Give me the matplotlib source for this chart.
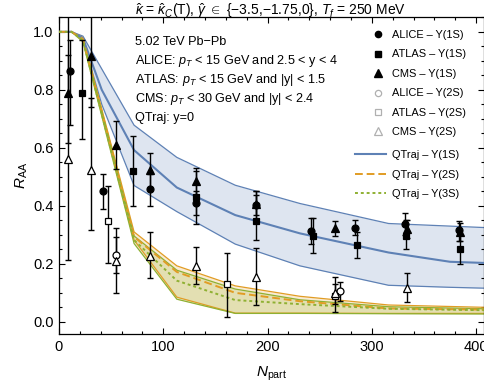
import matplotlib
matplotlib.use("Agg")
import matplotlib.pyplot as plt
from matplotlib.lines import Line2D
from matplotlib.ticker import MultipleLocator, FormatStrFormatter
import numpy as np

plt.rcParams['font.family'] = ['Liberation Sans', 'DejaVu Sans']
plt.rcParams['mathtext.fontset'] = 'custom'
plt.rcParams['mathtext.rm'] = 'Liberation Sans'
plt.rcParams['mathtext.it'] = 'Liberation Sans:italic'
plt.rcParams['mathtext.bf'] = 'Liberation Sans:bold'

# ---------------- QTraj theory bands ----------------
npart_1s = [0, 12, 23, 41, 72, 113, 169, 231, 316, 375, 408]
y1s_up = [1.0, 1.0, 0.985, 0.872, 0.678, 0.567, 0.471, 0.408, 0.339, 0.330, 0.325]
y1s_mid = [1.0, 1.0, 0.978, 0.800, 0.592, 0.463, 0.368, 0.305, 0.239, 0.207, 0.203]
y1s_lo = [1.0, 1.0, 0.972, 0.750, 0.470, 0.380, 0.268, 0.193, 0.126, 0.119, 0.116]

npart_ex = [0, 12, 23, 72, 113, 169, 231, 316, 408]
y2s_up = [1.0, 1.0, 0.980, 0.310, 0.193, 0.124, 0.088, 0.058, 0.050]
y2s_mid = [1.0, 1.0, 0.975, 0.293, 0.172, 0.100, 0.071, 0.046, 0.042]
y2s_lo = [1.0, 1.0, 0.970, 0.282, 0.085, 0.030, 0.030, 0.029, 0.029]
y3s_up = [1.0, 1.0, 0.975, 0.296, 0.178, 0.113, 0.076, 0.052, 0.045]
y3s_mid = [1.0, 1.0, 0.970, 0.282, 0.142, 0.075, 0.061, 0.045, 0.040]
y3s_lo = [1.0, 1.0, 0.965, 0.270, 0.078, 0.029, 0.029, 0.028, 0.027]

# ---------------- Data ----------------
alice1_x = [10.8, 42.5, 87.5, 131, 189, 241.6, 283.4, 331.4, 384]
alice1_y = [0.866, 0.450, 0.457, 0.410, 0.402, 0.314, 0.325, 0.337, 0.316]
alice1_lo = [0.678, 0.390, 0.400, 0.370, 0.350, 0.270, 0.300, 0.300, 0.280]
alice1_hi = [0.970, 0.510, 0.510, 0.450, 0.450, 0.357, 0.350, 0.374, 0.347]

atlas1_x = [22.5, 70.6, 131, 189, 243.5, 285.7, 333, 384.8]
atlas1_y = [0.790, 0.521, 0.430, 0.348, 0.295, 0.265, 0.296, 0.250]
atlas1_lo = [0.632, 0.399, 0.336, 0.282, 0.236, 0.219, 0.250, 0.200]
atlas1_hi = [0.970, 0.640, 0.520, 0.437, 0.357, 0.310, 0.350, 0.300]

cms1_x = [9, 31, 54.6, 87.5, 131, 189, 264.3, 333.6, 384.5]
cms1_y = [0.790, 0.918, 0.608, 0.523, 0.485, 0.405, 0.323, 0.320, 0.310]
cms1_lo = [0.617, 0.741, 0.527, 0.460, 0.430, 0.370, 0.297, 0.290, 0.280]
cms1_hi = [1.200, 1.200, 0.692, 0.583, 0.529, 0.451, 0.347, 0.350, 0.340]

alice2_x = [54.6, 269.7]
alice2_y = [0.229, 0.106]
alice2_lo = [0.167, 0.071]
alice2_hi = [0.291, 0.138]

atlas2_x = [47, 161, 264.3]
atlas2_y = [0.346, 0.129, 0.089]
atlas2_lo = [0.203, 0.015, 0.034]
atlas2_hi = [0.470, 0.239, 0.130]

cms2_x = [8.6, 31, 54.6, 87.5, 131, 189, 264.3, 333.6]
cms2_y = [0.563, 0.525, 0.210, 0.228, 0.193, 0.153, 0.100, 0.118]
cms2_lo = [0.213, 0.316, 0.100, 0.152, 0.132, 0.058, 0.060, 0.069]
cms2_hi = [0.920, 0.770, 0.322, 0.310, 0.257, 0.253, 0.153, 0.170]

C_BLUE = (0.368417, 0.506779, 0.709798)
C_ORANGE = (0.880722, 0.611041, 0.142051)
C_GREEN = (0.560181, 0.691569, 0.194885)

fig = plt.figure(figsize=(4.85, 3.85), dpi=100)
ax = fig.add_axes([0.1216, 0.1317, 0.8763, 0.8249])

# bands
ax.fill_between(npart_1s, y1s_lo, y1s_up, color=C_BLUE, alpha=0.2, lw=0, zorder=1)
ax.plot(npart_1s, y1s_up, color=C_BLUE, lw=0.9, zorder=2)
ax.plot(npart_1s, y1s_lo, color=C_BLUE, lw=0.9, zorder=2)
ax.plot(npart_1s, y1s_mid, color=C_BLUE, lw=1.5, zorder=3)

ax.fill_between(npart_ex, y2s_lo, y2s_up, color=C_ORANGE, alpha=0.2, lw=0, zorder=1)
ax.fill_between(npart_ex, y3s_lo, y3s_up, color=C_GREEN, alpha=0.2, lw=0, zorder=1)
ax.plot(npart_ex, y2s_up, color=C_ORANGE, lw=0.9, zorder=2)
ax.plot(npart_ex, y2s_lo, color=C_ORANGE, lw=0.9, zorder=2)
ax.plot(npart_ex, y3s_up, color=C_GREEN, lw=0.9, zorder=2)
ax.plot(npart_ex, y3s_lo, color=C_GREEN, lw=0.9, zorder=2)
ax.plot(npart_ex, y2s_mid, color=C_ORANGE, lw=1.4, ls=(0, (4, 2)), zorder=3)
ax.plot(npart_ex, y3s_mid, color=C_GREEN, lw=1.4, ls=(0, (1.5, 1.5)), zorder=3)


def draw(x, y, lo, hi, marker, filled, ms):
    x = np.array(x); y = np.array(y)
    yerr = [y - np.array(lo), np.array(hi) - y]
    ax.errorbar(x, y, yerr=yerr, fmt='none', ecolor='black', elinewidth=1.0,
                capsize=2.5, capthick=1.0, zorder=4)
    ax.plot(x, y, ls='none', marker=marker, ms=ms,
            mfc='black' if filled else 'white', mec='black', mew=0.9, zorder=5)


draw(alice1_x, alice1_y, alice1_lo, alice1_hi, 'o', True, 5.0)
draw(atlas1_x, atlas1_y, atlas1_lo, atlas1_hi, 's', True, 4.6)
draw(cms1_x, cms1_y, cms1_lo, cms1_hi, '^', True, 5.6)
draw(alice2_x, alice2_y, alice2_lo, alice2_hi, 'o', False, 5.0)
draw(atlas2_x, atlas2_y, atlas2_lo, atlas2_hi, 's', False, 4.6)
draw(cms2_x, cms2_y, cms2_lo, cms2_hi, '^', False, 5.6)

ax.set_xlim(0, 407.5)
ax.set_ylim(-0.043, 1.052)
ax.xaxis.set_major_locator(MultipleLocator(100))
ax.xaxis.set_minor_locator(MultipleLocator(20))
ax.yaxis.set_major_locator(MultipleLocator(0.2))
ax.yaxis.set_minor_locator(MultipleLocator(0.05))
ax.yaxis.set_major_formatter(FormatStrFormatter('%.1f'))
ax.tick_params(which='both', direction='in', top=True, right=True, labelsize=10.5,
               colors='black', width=0.8)
ax.tick_params(which='major', length=4.5, pad=4)
ax.tick_params(which='minor', length=2.5)
for s in ax.spines.values():
    s.set_linewidth(0.9)

ax.set_xlabel(r'$N_{\rm part}$', fontsize=11, labelpad=8)
ax.set_ylabel(r'$R_{\rm AA}$', fontsize=11, labelpad=2)

fig.text(0.557, 0.972,
         r'$\hat{\kappa}$ = $\hat{\kappa}_C$(T), $\hat{\gamma}$ $\in$ {−3.5,−1.75,0}, $T_f$ = 250 MeV',
         ha='center', va='center', fontsize=10)

info = ['5.02 TeV Pb−Pb',
        r'ALICE: $p_T$ < 15 GeV and 2.5 < y < 4',
        r'ATLAS: $p_T$ < 15 GeV and |y| < 1.5',
        r'CMS: $p_T$ < 30 GeV and |y| < 2.4',
        'QTraj: y=0']
for i, t in enumerate(info):
    ax.text(0.179, 0.920 - i * 0.0595, t, transform=ax.transAxes, fontsize=9.1,
            ha='left', va='center')

grey = '#b0b0b0'
mh = [
    Line2D([], [], ls='none', marker='o', ms=4.5, mfc='black', mec='black'),
    Line2D([], [], ls='none', marker='s', ms=4.3, mfc='black', mec='black'),
    Line2D([], [], ls='none', marker='^', ms=5.2, mfc='black', mec='black'),
    Line2D([], [], ls='none', marker='o', ms=4.5, mfc='white', mec=grey, mew=0.9),
    Line2D([], [], ls='none', marker='s', ms=4.3, mfc='white', mec=grey, mew=0.9),
    Line2D([], [], ls='none', marker='^', ms=5.2, mfc='white', mec=grey, mew=0.9),
]
ml = ['ALICE – Υ(1S)', 'ATLAS – Υ(1S)', 'CMS – Υ(1S)',
      'ALICE – Υ(2S)', 'ATLAS – Υ(2S)', 'CMS – Υ(2S)']
leg1 = ax.legend(mh, ml, loc='upper left', bbox_to_anchor=(0.736, 0.958),
                 frameon=False, fontsize=7.9, handlelength=1.1, handletextpad=0.75,
                 borderpad=0, borderaxespad=0, labelspacing=0.86)
ax.add_artist(leg1)

lh = [Line2D([], [], color=C_BLUE, lw=1.5),
      Line2D([], [], color=C_ORANGE, lw=1.4, ls=(0, (4, 2))),
      Line2D([], [], color=C_GREEN, lw=1.4, ls=(0, (1.5, 1.5)))]
ll = ['QTraj – Υ(1S)', 'QTraj – Υ(2S)', 'QTraj – Υ(3S)']
ax.legend(lh, ll, loc='upper left', bbox_to_anchor=(0.696, 0.580),
          frameon=False, fontsize=7.9, handlelength=2.85, handletextpad=0.55,
          borderpad=0, borderaxespad=0, labelspacing=0.86)

fig.savefig('out.png', dpi=100)
